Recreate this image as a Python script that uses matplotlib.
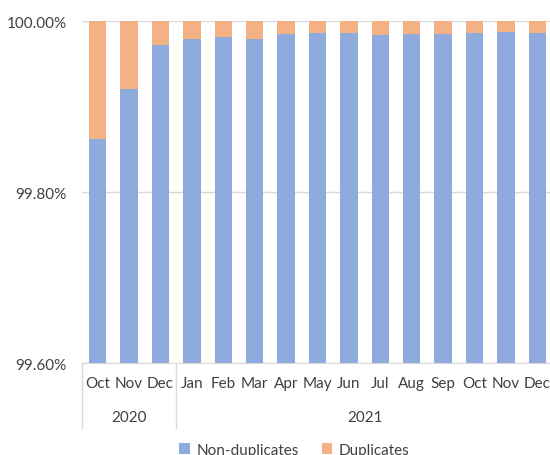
import numpy as np
import matplotlib.pyplot as plt
from matplotlib.transforms import blended_transform_factory

months = ["Oct", "Nov", "Dec", "Jan", "Feb", "Mar", "Apr", "May", "Jun",
          "Jul", "Aug", "Sep", "Oct", "Nov", "Dec"]
years = ["2020", "2021"]
year_counts = [3, 12]
non_dup = [99.862, 99.920, 99.972, 99.979, 99.981, 99.979, 99.985, 99.986,
           99.986, 99.984, 99.985, 99.985, 99.986, 99.987, 99.986]
dup = [0.138, 0.080, 0.028, 0.021, 0.019, 0.021, 0.015, 0.014,
       0.014, 0.016, 0.015, 0.015, 0.014, 0.013, 0.014]

plt.rcParams["font.family"] = ["Lato", "DejaVu Sans"]
BLUE = "#8FAADC"
ORANGE = "#F4B183"
TXT = "#404040"
FS = 11

fig = plt.figure(figsize=(5.5, 4.56), dpi=100)
ax = fig.add_axes([82 / 550, 1 - 364 / 456, (553 - 82) / 550, (364 - 22) / 456])

x = np.arange(len(months))
ax.bar(x, non_dup, width=0.55, color=BLUE, label="Non-duplicates", zorder=2)
ax.bar(x, dup, bottom=non_dup, width=0.55, color=ORANGE, label="Duplicates", zorder=2)

ax.set_xlim(-0.5, len(months) - 0.5)
ax.set_ylim(99.60, 100.0)
ax.set_yticks([99.60, 99.80, 100.00])
ax.set_yticklabels(["99.60%", "99.80%", "100.00%"], fontsize=FS, color=TXT)
ax.tick_params(axis="y", length=0, pad=11)
ax.grid(axis="y", color="#d9d9d9", lw=1, zorder=0)
for s in ["top", "right", "left"]:
    ax.spines[s].set_visible(False)
ax.spines["bottom"].set_color("#d9d9d9")

ax.set_xticks([])
tr = blended_transform_factory(ax.transData, ax.transAxes)
for i, m in enumerate(months):
    ax.text(i, -0.058, m, transform=tr, ha="center", va="center", fontsize=FS, color=TXT)

start = 0
bounds = [-0.5]
for y, n in zip(years, year_counts):
    mid = start + (n - 1) / 2
    ax.text(mid, -0.158, y, transform=tr, ha="center", va="center", fontsize=FS, color=TXT)
    start += n
    bounds.append(start - 0.5)
for b in bounds:
    ax.plot([b, b], [0, -0.19], transform=tr, color="#d9d9d9", lw=1, clip_on=False)

fig.legend(loc="center", bbox_to_anchor=(0.535, 0.012), ncol=2, frameon=False,
           fontsize=FS, handlelength=0.7, handleheight=0.7, columnspacing=1.5,
           handletextpad=0.4, labelcolor=TXT)

fig.savefig("out.png", dpi=100)
